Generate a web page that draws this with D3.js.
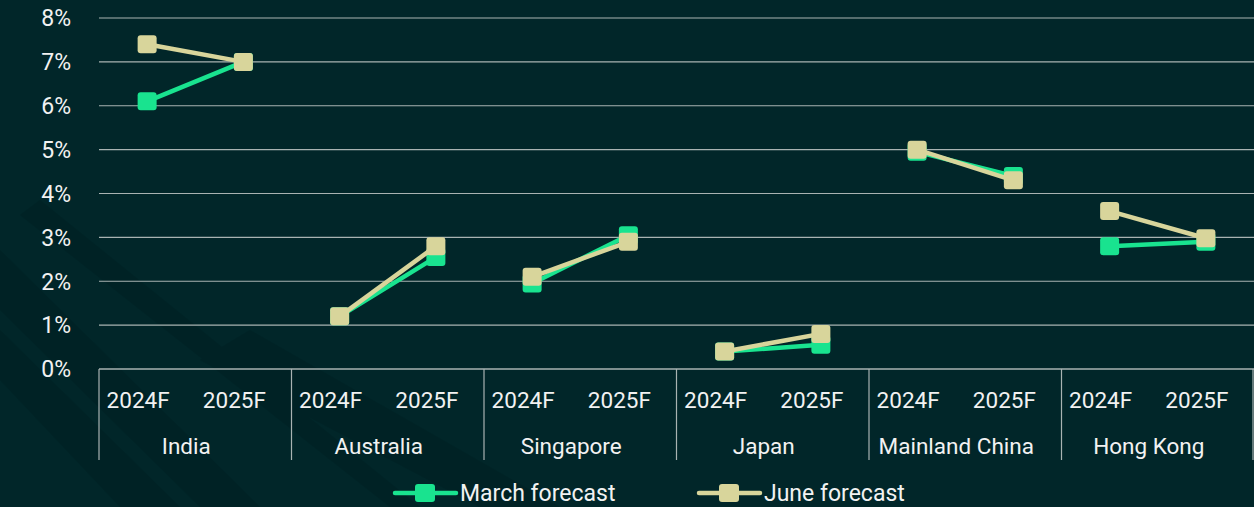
<!DOCTYPE html>
<html>
<head>
<meta charset="utf-8">
<script src="https://cdn.jsdelivr.net/npm/d3@7"></script>
<style>
  html, body { margin: 0; padding: 0; background: #012629; }
  svg { display: block; font-family: Roboto, "Noto Sans", sans-serif; }
</style>
</head>
<body>
<div id="chart"></div>
<script>
const countries = ["India", "Australia", "Singapore", "Japan", "Mainland China", "Hong Kong"];
const years = ["2024F", "2025F"];
const marchForecast = [6.1, 7.0, 1.2, 2.55, 1.95, 3.05, 0.4, 0.55, 4.95, 4.4, 2.8, 2.9];
const juneForecast = [7.4, 7.0, 1.2, 2.8, 2.1, 2.9, 0.4, 0.8, 5.0, 4.3, 3.6, 2.98];
const yTicks = [0, 1, 2, 3, 4, 5, 6, 7, 8];
const seriesNames = ["March forecast", "June forecast"];
const seriesColors = ["#19e38f", "#d8d59b"];

const width = 1254, height = 507;
const margin = { top: 18, right: 0, bottom: 138, left: 99 };

const svg = d3.select("#chart").append("svg")
    .attr("width", width)
    .attr("height", height);

svg.append("rect").attr("width", width).attr("height", height).attr("fill", "#012629");

// faint building texture in the lower left
const bg = svg.append("g").attr("opacity", 0.25);
[[0, 250, 260, 507, 200, 507, 0, 310], [0, 330, 180, 507, 120, 507, 0, 380],
 [250, 330, 560, 507, 480, 507, 200, 360], [40, 200, 420, 507, 390, 507, 20, 215]]
  .forEach(p => {
    bg.append("polygon")
      .attr("points", d3.range(0, p.length, 2).map(i => p[i] + "," + p[i + 1]).join(" "))
      .attr("fill", "#00191b");
  });

const x0 = d3.scaleBand()
    .domain(countries)
    .range([margin.left, width - margin.right]);

const x1 = d3.scaleBand()
    .domain(years)
    .range([0, x0.bandwidth()]);

const y = d3.scaleLinear()
    .domain([0, 8])
    .range([height - margin.bottom, margin.top]);

const xPos = i => x0(countries[Math.floor(i / 2)]) + x1(years[i % 2]) + x1.bandwidth() / 2;
const labelShift = -9;

// gridlines
svg.append("g")
    .selectAll("line")
    .data(yTicks.filter(d => d > 0))
    .join("line")
    .attr("x1", margin.left)
    .attr("x2", width - margin.right)
    .attr("y1", d => y(d))
    .attr("y2", d => y(d))
    .attr("stroke", "#a9b3b2")
    .attr("stroke-width", 1.2);

// y axis labels
svg.append("g")
    .selectAll("text")
    .data(yTicks)
    .join("text")
    .attr("x", 71)
    .attr("y", d => y(d))
    .attr("dy", "0.36em")
    .attr("text-anchor", "end")
    .attr("fill", "#f2f2f2")
    .attr("font-size", 23)
    .text(d => d + "%");

// x axis baseline and group separators
const axisY = y(0);
svg.append("line")
    .attr("x1", margin.left).attr("x2", width)
    .attr("y1", axisY).attr("y2", axisY)
    .attr("stroke", "#a9b3b2").attr("stroke-width", 1.5);

const seps = countries.map(c => x0(c)).concat([x0.range()[1] - 1]);
svg.append("g")
    .selectAll("line")
    .data(seps)
    .join("line")
    .attr("x1", d => d).attr("x2", d => d)
    .attr("y1", axisY).attr("y2", axisY + 91)
    .attr("stroke", "#a9b3b2").attr("stroke-width", 1.2);

// year labels
svg.append("g")
    .selectAll("text")
    .data(d3.range(countries.length * years.length))
    .join("text")
    .attr("x", i => xPos(i) + labelShift)
    .attr("y", axisY + 39)
    .attr("text-anchor", "middle")
    .attr("fill", "#f2f2f2")
    .attr("font-size", 22.5)
    .text(i => years[i % 2]);

// country labels
svg.append("g")
    .selectAll("text")
    .data(countries)
    .join("text")
    .attr("x", d => x0(d) + x0.bandwidth() / 2 + labelShift)
    .attr("y", axisY + 85)
    .attr("text-anchor", "middle")
    .attr("fill", "#f2f2f2")
    .attr("font-size", 22.5)
    .text(d => d);

// series
const line = d3.line().x(d => d.x).y(d => y(d.v));
[marchForecast, juneForecast].forEach((vals, s) => {
    const g = svg.append("g");
    for (let c = 0; c < countries.length; c++) {
        const pts = [0, 1].map(k => ({ x: xPos(c * 2 + k), v: vals[c * 2 + k] }));
        g.append("path")
            .attr("d", line(pts))
            .attr("fill", "none")
            .attr("stroke", seriesColors[s])
            .attr("stroke-width", 4.5);
    }
    g.selectAll("rect")
        .data(vals)
        .join("rect")
        .attr("x", (d, i) => xPos(i) - 9.5)
        .attr("y", d => y(d) - 9)
        .attr("width", 19)
        .attr("height", 18)
        .attr("rx", 3)
        .attr("fill", seriesColors[s]);
});

// legend
const legendX = [395, 699];
const legend = svg.append("g");
seriesNames.forEach((name, s) => {
    const lx = legendX[s], ly = 493;
    legend.append("line")
        .attr("x1", lx).attr("x2", lx + 61)
        .attr("y1", ly).attr("y2", ly)
        .attr("stroke", seriesColors[s]).attr("stroke-width", 4.5)
        .attr("stroke-linecap", "round");
    legend.append("rect")
        .attr("x", lx + 20).attr("y", ly - 9)
        .attr("width", 20).attr("height", 18).attr("rx", 3)
        .attr("fill", seriesColors[s]);
    legend.append("text")
        .attr("x", lx + 65)
        .attr("y", ly)
        .attr("dy", "0.36em")
        .attr("fill", "#f2f2f2")
        .attr("font-size", 23)
        .text(name);
});
</script>
</body>
</html>
